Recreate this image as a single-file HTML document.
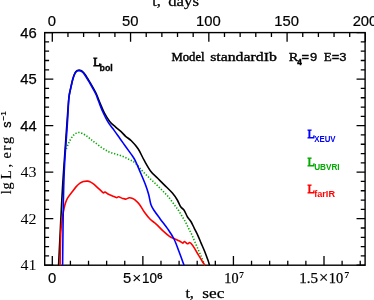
<!DOCTYPE html>
<html><head><meta charset="utf-8"><title>Light curves</title>
<style>
html,body{margin:0;padding:0;background:#fff;overflow:hidden}
svg{display:block;will-change:transform}
</style></head><body>
<svg width="374" height="300" viewBox="0 0 374 300">
<rect x="0" y="0" width="374" height="300" fill="#fff"/>
<rect x="44.7" y="32.6" width="320.4" height="232.6" fill="none" stroke="#000" stroke-width="1.4"/>
<path d="M52.30 32.60v9.1M67.95 32.60v4.4M83.61 32.60v4.4M99.26 32.60v4.4M114.91 32.60v4.4M130.56 32.60v9.1M146.22 32.60v4.4M161.87 32.60v4.4M177.52 32.60v4.4M193.18 32.60v4.4M208.83 32.60v9.1M224.48 32.60v4.4M240.14 32.60v4.4M255.79 32.60v4.4M271.44 32.60v4.4M287.09 32.60v9.1M302.75 32.60v4.4M318.40 32.60v4.4M334.05 32.60v4.4M349.71 32.60v4.4M365.36 32.60v9.1M52.30 265.20v-9.1M70.41 265.20v-4.4M88.53 265.20v-4.4M106.64 265.20v-4.4M124.75 265.20v-4.4M142.87 265.20v-9.1M160.98 265.20v-4.4M179.09 265.20v-4.4M197.20 265.20v-4.4M215.32 265.20v-4.4M233.43 265.20v-9.1M251.54 265.20v-4.4M269.66 265.20v-4.4M287.77 265.20v-4.4M305.88 265.20v-4.4M324.00 265.20v-9.1M342.11 265.20v-4.4M360.22 265.20v-4.4M44.70 265.20h8.6M365.15 265.20h-8.6M44.70 255.90h4.4M365.15 255.90h-4.4M44.70 246.59h4.4M365.15 246.59h-4.4M44.70 237.29h4.4M365.15 237.29h-4.4M44.70 227.98h4.4M365.15 227.98h-4.4M44.70 218.68h8.6M365.15 218.68h-8.6M44.70 209.38h4.4M365.15 209.38h-4.4M44.70 200.07h4.4M365.15 200.07h-4.4M44.70 190.77h4.4M365.15 190.77h-4.4M44.70 181.46h4.4M365.15 181.46h-4.4M44.70 172.16h8.6M365.15 172.16h-8.6M44.70 162.86h4.4M365.15 162.86h-4.4M44.70 153.55h4.4M365.15 153.55h-4.4M44.70 144.25h4.4M365.15 144.25h-4.4M44.70 134.94h4.4M365.15 134.94h-4.4M44.70 125.64h8.6M365.15 125.64h-8.6M44.70 116.34h4.4M365.15 116.34h-4.4M44.70 107.03h4.4M365.15 107.03h-4.4M44.70 97.73h4.4M365.15 97.73h-4.4M44.70 88.42h4.4M365.15 88.42h-4.4M44.70 79.12h8.6M365.15 79.12h-8.6M44.70 69.82h4.4M365.15 69.82h-4.4M44.70 60.51h4.4M365.15 60.51h-4.4M44.70 51.21h4.4M365.15 51.21h-4.4M44.70 41.90h4.4M365.15 41.90h-4.4M44.70 32.60h8.6M365.15 32.60h-8.6" stroke="#000" stroke-width="1.3" fill="none"/>
<path d="M66.40 148.90C66.82 147.85 67.87 144.70 68.90 142.60C69.93 140.50 71.35 137.88 72.60 136.30C73.85 134.72 75.13 133.72 76.40 133.10C77.67 132.48 78.73 132.27 80.20 132.60C81.67 132.93 83.53 134.07 85.20 135.10C86.87 136.13 88.57 137.55 90.20 138.80C91.83 140.05 93.07 141.13 95.00 142.60C96.93 144.07 99.53 146.08 101.80 147.60C104.07 149.12 106.33 150.63 108.60 151.70C110.87 152.77 113.13 153.25 115.40 154.00C117.67 154.75 119.93 155.30 122.20 156.20C124.47 157.10 126.87 158.30 129.00 159.40C131.13 160.50 132.87 160.97 135.00 162.80C137.13 164.63 139.53 168.00 141.80 170.40C144.07 172.80 146.33 175.00 148.60 177.20C150.87 179.40 153.13 181.40 155.40 183.60C157.67 185.80 159.93 188.07 162.20 190.40C164.47 192.73 166.87 195.05 169.00 197.60C171.13 200.15 173.43 203.60 175.00 205.70C176.57 207.80 177.27 208.50 178.40 210.20C179.53 211.90 180.67 214.02 181.80 215.90C182.93 217.78 184.07 219.43 185.20 221.50C186.33 223.57 187.47 226.03 188.60 228.30C189.73 230.57 190.87 232.63 192.00 235.10C193.13 237.57 194.27 240.45 195.40 243.10C196.53 245.75 197.73 248.55 198.80 251.00C199.87 253.45 200.83 255.43 201.80 257.80C202.77 260.17 204.13 263.97 204.60 265.20" stroke="#00aa00" stroke-width="1.6" fill="none" stroke-linejoin="round" stroke-dasharray="1.3 1.7"/>
<path d="M58.60 265.20C58.87 259.67 59.67 242.87 60.20 232.00C60.73 221.13 61.32 209.00 61.80 200.00C62.28 191.00 62.65 185.00 63.10 178.00C63.55 171.00 64.03 164.67 64.50 158.00C64.97 151.33 65.43 144.67 65.90 138.00C66.37 131.33 66.85 124.25 67.30 118.00C67.75 111.75 68.25 104.50 68.60 100.50C68.95 96.50 69.00 96.32 69.40 94.00C69.80 91.68 70.47 88.98 71.00 86.60C71.53 84.22 72.07 81.67 72.60 79.70C73.13 77.73 73.67 76.12 74.20 74.80C74.73 73.48 75.27 72.52 75.80 71.80C76.33 71.08 76.85 70.78 77.40 70.50C77.95 70.22 78.53 70.10 79.10 70.10C79.67 70.10 80.23 70.27 80.80 70.50C81.37 70.73 81.82 70.88 82.50 71.50C83.18 72.12 84.05 73.03 84.90 74.20C85.75 75.37 86.70 77.07 87.60 78.50C88.50 79.93 89.40 81.28 90.30 82.80C91.20 84.32 91.98 85.73 93.00 87.60C94.02 89.47 95.28 91.55 96.40 94.00C97.52 96.45 98.40 99.22 99.70 102.30C101.00 105.38 102.53 109.30 104.20 112.50C105.87 115.70 107.83 119.12 109.70 121.50C111.57 123.88 113.50 125.10 115.40 126.80C117.30 128.50 119.40 130.12 121.10 131.70C122.80 133.28 123.90 134.78 125.60 136.30C127.30 137.82 129.22 138.72 131.30 140.80C133.38 142.88 135.97 145.57 138.10 148.80C140.23 152.03 141.97 156.42 144.10 160.20C146.23 163.98 148.63 168.48 150.90 171.50C153.17 174.52 155.43 176.03 157.70 178.30C159.97 180.57 162.05 182.63 164.50 185.10C166.95 187.57 170.27 190.62 172.40 193.10C174.53 195.58 175.92 197.72 177.30 200.00C178.68 202.28 179.57 205.10 180.70 206.80C181.83 208.50 182.97 208.50 184.10 210.20C185.23 211.90 186.37 215.12 187.50 217.00C188.63 218.88 189.77 219.62 190.90 221.50C192.03 223.38 193.17 226.03 194.30 228.30C195.43 230.57 196.57 232.63 197.70 235.10C198.83 237.57 199.97 240.45 201.10 243.10C202.23 245.75 203.37 248.17 204.50 251.00C205.63 253.83 207.07 257.73 207.90 260.10C208.73 262.47 209.23 264.35 209.50 265.20" stroke="#000" stroke-width="1.6" fill="none" stroke-linejoin="round" />
<path d="M60.10 265.20C60.20 260.00 60.32 241.87 60.70 234.00C61.08 226.13 61.95 221.73 62.40 218.00C62.85 214.27 63.00 213.70 63.40 211.60C63.80 209.50 64.32 207.20 64.80 205.40C65.28 203.60 65.77 202.13 66.30 200.80C66.83 199.47 67.05 198.85 68.00 197.40C68.95 195.95 70.67 193.85 72.00 192.10C73.33 190.35 74.67 188.38 76.00 186.90C77.33 185.42 78.77 184.08 80.00 183.20C81.23 182.32 82.17 181.95 83.40 181.60C84.63 181.25 86.18 181.02 87.40 181.10C88.62 181.18 89.58 181.55 90.70 182.10C91.82 182.65 92.87 183.40 94.10 184.40C95.33 185.40 96.77 186.87 98.10 188.10C99.43 189.33 101.18 191.00 102.10 191.80C103.02 192.60 103.12 192.87 103.60 192.90C104.08 192.93 104.18 191.77 105.00 192.00C105.82 192.23 106.92 193.50 108.50 194.30C110.08 195.10 113.12 196.23 114.50 196.80C115.88 197.37 116.12 197.70 116.80 197.70C117.48 197.70 117.65 196.68 118.60 196.80C119.55 196.92 121.28 198.02 122.50 198.40C123.72 198.78 124.77 199.22 125.90 199.10C127.03 198.98 128.17 197.82 129.30 197.70C130.43 197.58 131.75 198.03 132.70 198.40C133.65 198.77 133.87 198.90 135.00 199.90C136.13 200.90 137.95 202.38 139.50 204.40C141.05 206.42 142.52 209.52 144.30 212.00C146.08 214.48 148.27 217.33 150.20 219.30C152.13 221.27 153.82 221.92 155.90 223.80C157.98 225.68 160.43 228.52 162.70 230.60C164.97 232.68 167.62 234.98 169.50 236.30C171.38 237.62 172.33 237.72 174.00 238.50C175.67 239.28 178.02 240.23 179.50 241.00C180.98 241.77 182.07 243.02 182.90 243.10C183.73 243.18 183.73 241.38 184.50 241.50C185.27 241.62 186.63 243.62 187.50 243.80C188.37 243.98 188.83 242.33 189.70 242.60C190.57 242.87 191.75 244.18 192.70 245.40C193.65 246.62 194.38 248.20 195.40 249.90C196.42 251.60 197.67 253.72 198.80 255.60C199.93 257.48 201.18 259.60 202.20 261.20C203.22 262.80 204.45 264.53 204.90 265.20" stroke="#ff0000" stroke-width="1.6" fill="none" stroke-linejoin="round" />
<path d="M62.60 265.20C62.73 254.33 63.12 215.82 63.40 200.00C63.68 184.18 63.98 178.18 64.30 170.30C64.62 162.42 64.92 158.58 65.30 152.70C65.68 146.82 66.22 140.45 66.60 135.00C66.98 129.55 67.25 125.75 67.60 120.00C67.95 114.25 68.38 104.83 68.70 100.50C69.02 96.17 69.10 96.32 69.50 94.00C69.90 91.68 70.57 88.97 71.10 86.60C71.63 84.23 72.17 81.73 72.70 79.80C73.23 77.87 73.77 76.28 74.30 75.00C74.83 73.72 75.37 72.78 75.90 72.10C76.43 71.42 76.97 71.15 77.50 70.90C78.03 70.65 78.57 70.60 79.10 70.60C79.63 70.60 80.17 70.68 80.70 70.90C81.23 71.12 81.67 71.30 82.30 71.90C82.93 72.50 83.70 73.37 84.50 74.50C85.30 75.63 86.22 77.28 87.10 78.70C87.98 80.12 88.90 81.48 89.80 83.00C90.70 84.52 91.50 85.97 92.50 87.80C93.50 89.63 94.72 91.58 95.80 94.00C96.88 96.42 97.78 99.22 99.00 102.30C100.22 105.38 101.53 109.10 103.10 112.50C104.67 115.90 106.53 119.68 108.40 122.70C110.27 125.72 112.38 127.97 114.30 130.60C116.22 133.23 118.02 135.85 119.90 138.50C121.78 141.15 123.70 143.85 125.60 146.50C127.50 149.15 129.73 152.12 131.30 154.40C132.87 156.68 133.63 157.53 135.00 160.20C136.37 162.87 137.80 166.43 139.50 170.40C141.20 174.37 143.68 180.03 145.20 184.00C146.72 187.97 147.65 190.80 148.60 194.20C149.55 197.60 149.95 201.63 150.90 204.40C151.85 207.17 152.75 208.38 154.30 210.80C155.85 213.22 157.97 215.88 160.20 218.90C162.43 221.92 165.40 225.55 167.70 228.90C170.00 232.25 172.12 235.23 174.00 239.00C175.88 242.77 177.33 247.13 179.00 251.50C180.67 255.87 183.17 262.92 184.00 265.20" stroke="#0000ff" stroke-width="1.6" fill="none" stroke-linejoin="round" />
<text x="51.9" y="26.0" style='font-family:"Liberation Sans",sans-serif' font-size="14.8" text-anchor="middle" fill="#000" stroke="#000" stroke-width="0.2">0</text>
<text x="130.2" y="26.0" style='font-family:"Liberation Sans",sans-serif' font-size="14.8" text-anchor="middle" fill="#000" stroke="#000" stroke-width="0.2">50</text>
<text x="208.4" y="26.0" style='font-family:"Liberation Sans",sans-serif' font-size="14.8" text-anchor="middle" fill="#000" stroke="#000" stroke-width="0.2">100</text>
<text x="286.7" y="26.0" style='font-family:"Liberation Sans",sans-serif' font-size="14.8" text-anchor="middle" fill="#000" stroke="#000" stroke-width="0.2">150</text>
<text x="365.0" y="26.0" style='font-family:"Liberation Sans",sans-serif' font-size="14.8" text-anchor="middle" fill="#000" stroke="#000" stroke-width="0.2">200</text>
<text x="36.7" y="37.8" style='font-family:"Liberation Sans",sans-serif' font-size="14.8" text-anchor="end" fill="#000" stroke="#000" stroke-width="0.25">46</text>
<text x="36.7" y="84.4" style='font-family:"Liberation Sans",sans-serif' font-size="14.8" text-anchor="end" fill="#000" stroke="#000" stroke-width="0.25">45</text>
<text x="36.7" y="130.9" style='font-family:"Liberation Sans",sans-serif' font-size="14.8" text-anchor="end" fill="#000" stroke="#000" stroke-width="0.25">44</text>
<text x="20.6" y="177.4" style='font-family:"Liberation Serif",serif' font-size="14" text-anchor="start" fill="#000" textLength="16" lengthAdjust="spacingAndGlyphs">43</text>
<text x="20.6" y="223.9" style='font-family:"Liberation Serif",serif' font-size="14" text-anchor="start" fill="#000" textLength="16" lengthAdjust="spacingAndGlyphs">42</text>
<text x="20.6" y="270.4" style='font-family:"Liberation Serif",serif' font-size="14" text-anchor="start" fill="#000" textLength="16" lengthAdjust="spacingAndGlyphs">41</text>
<text x="52.1" y="282.6" style='font-family:"Liberation Sans",sans-serif' font-size="14.8" text-anchor="middle" fill="#000" stroke="#000" stroke-width="0.2">0</text>
<text x="122.9" y="282.6" style='font-family:"Liberation Sans",sans-serif' font-size="14.8" text-anchor="start" fill="#000" stroke="#000" stroke-width="0.2">5</text>
<text x="132.3" y="282.7" style='font-family:"Liberation Sans",sans-serif' font-size="15.5" text-anchor="start" fill="#000" >×</text>
<text x="141.9" y="282.6" style='font-family:"Liberation Sans",sans-serif' font-size="14.8" text-anchor="start" fill="#000" stroke="#000" stroke-width="0.2" textLength="15" lengthAdjust="spacingAndGlyphs">10</text>
<text x="157.0" y="278.6" style='font-family:"Liberation Sans",sans-serif' font-size="8.6" text-anchor="start" fill="#000" font-weight="bold" textLength="5.6" lengthAdjust="spacingAndGlyphs">6</text>
<text x="224.3" y="282.6" style='font-family:"Liberation Serif",serif' font-size="14" text-anchor="start" fill="#000" stroke="#000" stroke-width="0.25" textLength="14.2" lengthAdjust="spacingAndGlyphs">10</text>
<text x="239.0" y="278.2" style='font-family:"Liberation Serif",serif' font-size="8.5" text-anchor="start" fill="#000" font-weight="bold" textLength="5" lengthAdjust="spacingAndGlyphs">7</text>
<text x="299.2" y="282.6" style='font-family:"Liberation Serif",serif' font-size="14" text-anchor="start" fill="#000" stroke="#000" stroke-width="0.25" textLength="18.8" lengthAdjust="spacingAndGlyphs">1.5</text>
<text x="319.0" y="282.9" style='font-family:"Liberation Serif",serif' font-size="16.5" text-anchor="start" fill="#000" stroke="#000" stroke-width="0.25">×</text>
<text x="328.8" y="282.6" style='font-family:"Liberation Serif",serif' font-size="14" text-anchor="start" fill="#000" stroke="#000" stroke-width="0.25" textLength="14.4" lengthAdjust="spacingAndGlyphs">10</text>
<text x="344.2" y="278.2" style='font-family:"Liberation Serif",serif' font-size="8.5" text-anchor="start" fill="#000" font-weight="bold" textLength="5" lengthAdjust="spacingAndGlyphs">7</text>
<text x="152.2" y="5.9" style='font-family:"Liberation Serif",serif' font-size="14.5" text-anchor="start" fill="#000" stroke="#000" stroke-width="0.25" textLength="8.5" lengthAdjust="spacingAndGlyphs">t,</text>
<text x="168.2" y="5.9" style='font-family:"Liberation Serif",serif' font-size="14.5" text-anchor="start" fill="#000" stroke="#000" stroke-width="0.25" textLength="30.8" lengthAdjust="spacingAndGlyphs">days</text>
<text x="185.4" y="298.3" style='font-family:"Liberation Serif",serif' font-size="14.5" text-anchor="start" fill="#000" stroke="#000" stroke-width="0.25" textLength="8.5" lengthAdjust="spacingAndGlyphs">t,</text>
<text x="202.3" y="298.3" style='font-family:"Liberation Serif",serif' font-size="14.5" text-anchor="start" fill="#000" stroke="#000" stroke-width="0.25" textLength="22" lengthAdjust="spacingAndGlyphs">sec</text>
<g transform="translate(10.6,194.2) rotate(-90)">
<text x="0 4.6 11.5 15.3 26.6 30.5 35.6 43.6 50.2" y="0" style='font-family:"Liberation Serif",serif' font-size="14.3" fill="#000" stroke="#000" stroke-width="0.15">lg L, erg</text>
<text x="66.5" y="0.0" style='font-family:"Liberation Sans",sans-serif' font-size="12.6" text-anchor="start" fill="#000" stroke="#000" stroke-width="0.3">s</text>
<text x="73.8" y="-4.9" style='font-family:"Liberation Sans",sans-serif' font-size="8" text-anchor="start" fill="#000" font-weight="bold" textLength="9.2" lengthAdjust="spacingAndGlyphs">−1</text>
</g>
<text x="93.3" y="66.1" style='font-family:"Liberation Serif",serif' font-size="13.4" text-anchor="start" fill="#000" stroke="#000" stroke-width="0.8" textLength="7.4" lengthAdjust="spacingAndGlyphs">L</text>
<text x="99.6" y="70.5" style='font-family:"Liberation Sans",sans-serif' font-size="8.8" text-anchor="start" fill="#000" font-weight="bold" stroke="#000" stroke-width="0.3" textLength="13.2" lengthAdjust="spacingAndGlyphs">bol</text>
<text x="171.5" y="60.8" style='font-family:"Liberation Serif",serif' font-size="12.3" text-anchor="start" fill="#000" stroke="#000" stroke-width="0.45" textLength="33" lengthAdjust="spacingAndGlyphs">Model</text>
<text x="210.2" y="60.8" style='font-family:"Liberation Serif",serif' font-size="12.3" text-anchor="start" fill="#000" stroke="#000" stroke-width="0.35" textLength="66.6" lengthAdjust="spacingAndGlyphs">standardIb</text>
<text x="288.8" y="60.7" style='font-family:"Liberation Serif",serif' font-size="12.3" text-anchor="start" fill="#000" stroke="#000" stroke-width="0.35" lengthAdjust="spacingAndGlyphs" textLength="9.6">R</text>
<text x="297.3" y="64.5" style='font-family:"Liberation Sans",sans-serif' font-size="8.2" text-anchor="start" fill="#000" font-weight="bold" stroke="#000" stroke-width="0.45">4</text>
<text x="301.4" y="60.7" style='font-family:"Liberation Sans",sans-serif' font-size="12.5" text-anchor="start" fill="#000" stroke="#000" stroke-width="0.35" lengthAdjust="spacingAndGlyphs" textLength="7.6">=</text>
<text x="309.9" y="60.6" style='font-family:"Liberation Sans",sans-serif' font-size="11.2" text-anchor="start" fill="#000" stroke="#000" stroke-width="0.35" lengthAdjust="spacingAndGlyphs" textLength="7.2">9</text>
<text x="323.8" y="60.7" style='font-family:"Liberation Serif",serif' font-size="12.3" text-anchor="start" fill="#000" stroke="#000" stroke-width="0.35" lengthAdjust="spacingAndGlyphs" textLength="8">E</text>
<text x="331.7" y="60.7" style='font-family:"Liberation Sans",sans-serif' font-size="12.5" text-anchor="start" fill="#000" stroke="#000" stroke-width="0.35" lengthAdjust="spacingAndGlyphs" textLength="7.6">=</text>
<text x="339.3" y="60.6" style='font-family:"Liberation Sans",sans-serif' font-size="11.2" text-anchor="start" fill="#000" stroke="#000" stroke-width="0.35" lengthAdjust="spacingAndGlyphs" textLength="7.2">3</text>
<text x="307.4" y="138.2" style='font-family:"Liberation Serif",serif' font-size="13.4" text-anchor="start" fill="#0000ff" stroke="#0000ff" stroke-width="0.8" textLength="7.4" lengthAdjust="spacingAndGlyphs">L</text>
<text x="314.2" y="142.2" style='font-family:"Liberation Sans",sans-serif' font-size="8.8" text-anchor="start" fill="#0000ff" font-weight="bold" textLength="21.4" lengthAdjust="spacingAndGlyphs">XEUV</text>
<text x="307.4" y="166.0" style='font-family:"Liberation Serif",serif' font-size="13.4" text-anchor="start" fill="#00aa00" stroke="#00aa00" stroke-width="0.8" textLength="7.4" lengthAdjust="spacingAndGlyphs">L</text>
<text x="314.2" y="170.0" style='font-family:"Liberation Sans",sans-serif' font-size="8.8" text-anchor="start" fill="#00aa00" font-weight="bold" textLength="25.4" lengthAdjust="spacingAndGlyphs">UBVRI</text>
<text x="307.4" y="193.2" style='font-family:"Liberation Serif",serif' font-size="13.4" text-anchor="start" fill="#ff0000" stroke="#ff0000" stroke-width="0.8" textLength="7.4" lengthAdjust="spacingAndGlyphs">L</text>
<text x="314.2" y="197.2" style='font-family:"Liberation Sans",sans-serif' font-size="8.8" text-anchor="start" fill="#ff0000" font-weight="bold" textLength="20.8" lengthAdjust="spacingAndGlyphs">farIR</text>
</svg>
</body></html>
